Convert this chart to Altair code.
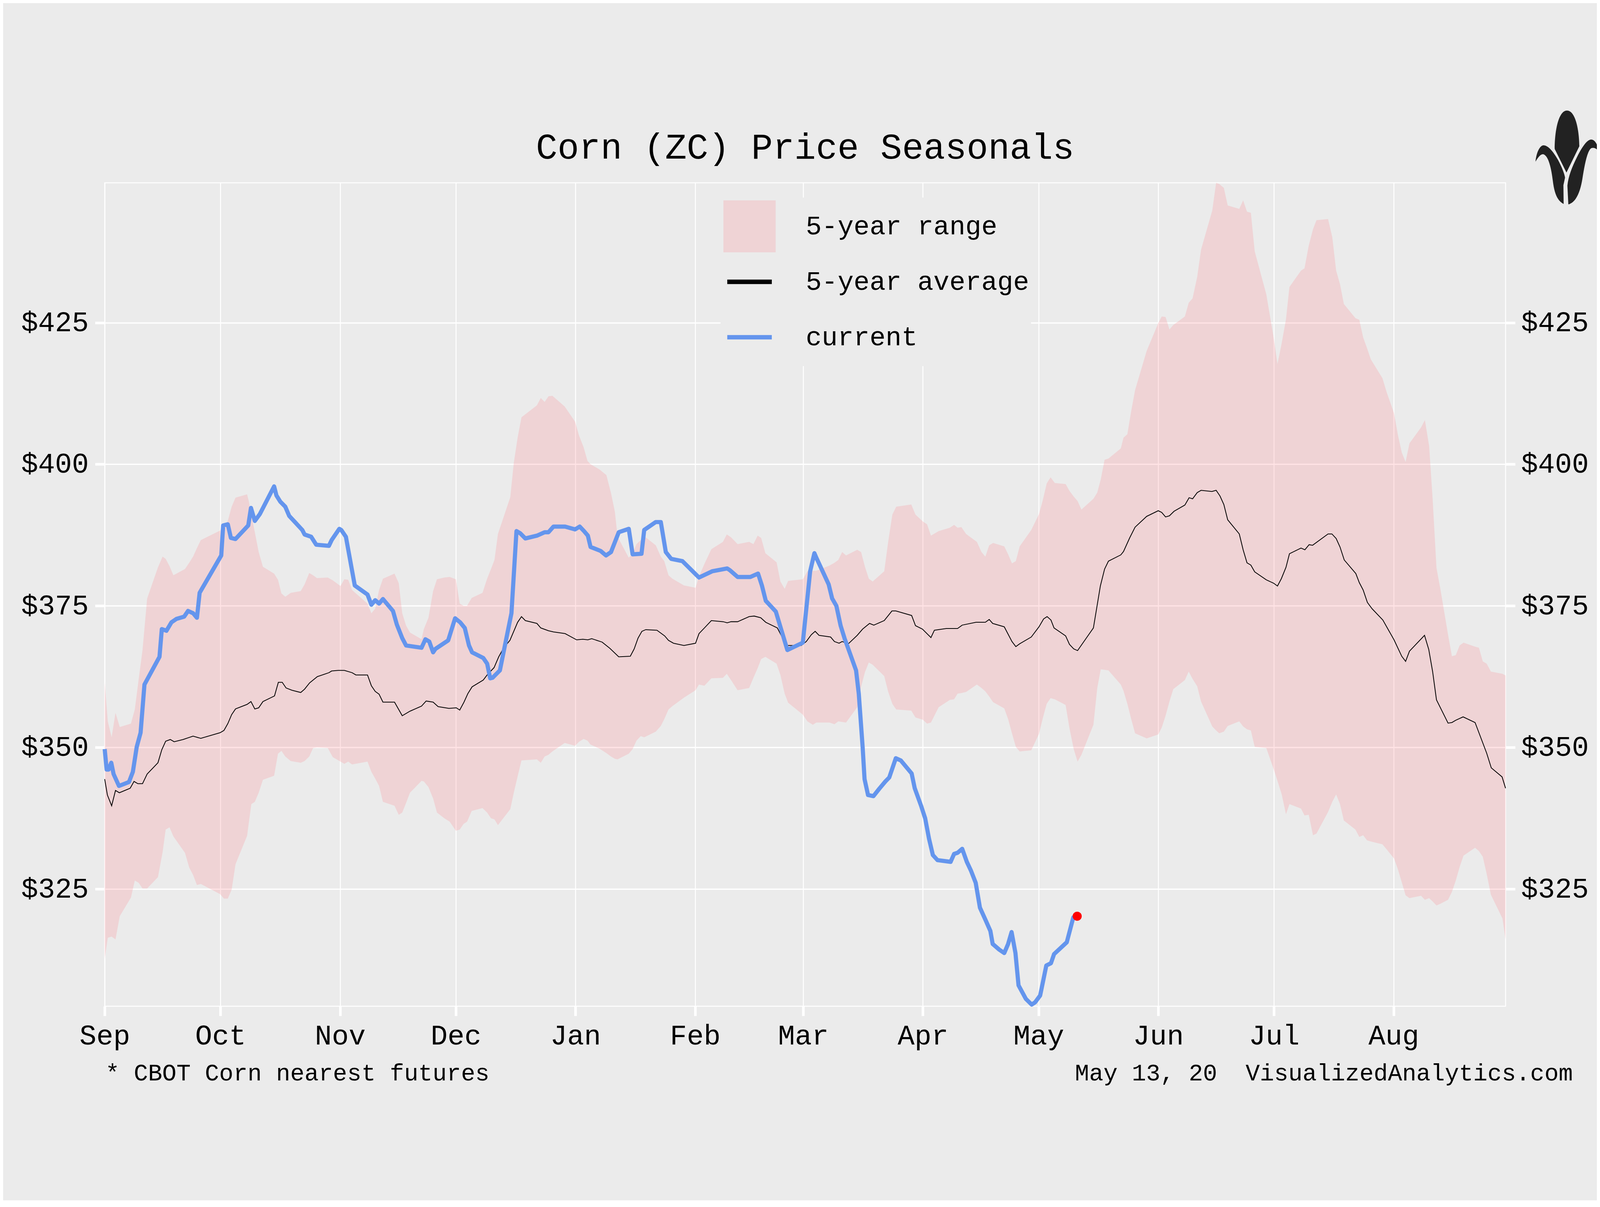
import altair as alt
import pandas as pd

FONT = "Courier New, Liberation Mono, monospace"

# ---------------- data ----------------
month_labels = ["Sep", "Oct", "Nov", "Dec", "Jan", "Feb", "Mar", "Apr", "May", "Jun", "Jul", "Aug"]
month_starts = [0, 30, 61, 91, 122, 153, 181, 212, 242, 273, 303, 334]   # days since Sep 1
y_ticks = [325, 350, 375, 400, 425]

# 5-year range (days since Sep 1, low, high)
range_day = [
    0, 0.8, 1.8, 2.8, 3.9, 6.8, 7.8, 8.8, 9.8, 11.0, 13.8, 15.0, 15.8, 16.8, 17.8, 20.8, 21.9, 22.9, 23.9, 24.9,
    29.9, 30.9, 31.9, 32.9, 33.9, 36.9, 37.4, 38.0, 38.9, 39.9, 41.0, 43.9, 44.9, 45.8, 46.8, 48.2, 50.8, 51.8,
    53.0, 54.0, 55.0, 57.8, 59.1, 61.1, 62.1, 63.1, 64.1, 68.1, 69.1, 70.1, 71.1, 72.1, 75.1, 76.2, 77.1, 78.1,
    79.1, 82.1, 82.7, 83.9, 85.1, 86.1, 88.0, 89.4, 91.0,
    92.0, 93.0, 93.9, 95.1, 97.9, 99.1, 100.1, 101.0, 101.9, 105.1, 106.0, 107.0, 108.0, 112.0, 113.0, 114.0,
    115.0, 116.0, 119.2, 121.9, 122.9, 124.1, 125.1, 125.9, 128.2, 130.0, 131.2, 132.2, 132.9, 135.8, 136.8,
    137.8, 138.9, 139.8, 142.8, 144.1, 145.0, 146.1, 147.1, 150.1, 153.1, 154.0, 155.4, 157.2, 160.2, 161.2,
    162.3, 164.0, 167.0, 168.1, 169.2, 170.1, 171.2, 174.1, 175.1, 176.2, 177.1, 180.9,
    182.1, 183.5, 184.4, 187.8, 189.1, 190.1, 191.1, 192.1, 195.0, 196.0, 197.0, 198.0, 199.0, 202.0, 203.0,
    204.1, 205.1, 209.0, 210.1, 212.0, 213.1, 214.1, 216.1, 219.0, 220.1, 221.0, 222.0, 223.2, 226.0, 227.2,
    228.2, 229.2, 230.2, 233.1, 234.1, 235.1, 236.1, 237.1, 240.1, 242.1, 243.1, 244.1, 245.1, 246.2, 249.0,
    250.0, 251.1, 252.1, 253.1, 256.2, 257.2, 258.1, 259.1, 260.1, 263.3,
    264.0, 265.0, 266.0, 267.0, 270.0, 273.0, 273.9, 274.9, 275.9, 276.9, 279.9, 280.9, 281.9, 283.1, 284.1,
    287.0, 288.0, 288.8, 290.0, 291.0, 294.0, 295.0, 296.0, 297.0, 298.0, 301.0, 302.9, 303.9, 305.0, 306.1,
    307.0, 310.0, 310.9, 312.0, 313.1, 314.0, 317.0, 318.1, 319.1, 320.1, 321.1, 324.1, 325.1, 326.1, 327.1,
    328.1, 331.1, 332.2, 334.1, 335.1, 336.1, 337.1, 338.1, 341.1, 342.1, 343.2, 344.1, 345.1, 346.1, 348.1,
    349.1, 350.1, 351.1, 352.1, 355.1, 356.1, 357.1, 358.1, 359.2, 362.2, 363.0,
]
range_high = [
    361.5, 354.6, 351.8, 356.1, 353.6, 354.2, 356.7, 362.0, 367.2, 376.3, 381.8, 383.7, 383.3, 382.0, 380.4, 381.5, 382.6, 383.7, 385.2, 386.6,
    388.3, 389.0, 390.0, 392.5, 394.1, 394.7, 393.3, 391.0, 388.0, 384.5, 381.9, 380.7, 379.6, 377.2, 376.6, 377.3, 377.6, 378.8,
    380.8, 380.4, 379.9, 380.0, 379.5, 378.5, 379.7, 379.6, 377.8, 375.4, 373.7, 374.5, 377.8, 379.8, 380.7, 379.0, 373.7, 371.5,
    370.3, 369.1, 370.9, 372.9, 377.6, 379.7, 380.0, 380.1, 379.7,
    375.4, 375.0, 375.0, 376.4, 377.3, 379.8, 381.5, 383.1, 387.7, 394.2, 400.2, 404.7, 408.3, 410.4, 411.7, 411.0,
    412.0, 412.1, 410.2, 407.5, 405.1, 403.0, 400.6, 400.0, 399.1, 398.1, 394.9, 391.6, 387.2, 383.5, 384.2,
    385.9, 386.6, 387.3, 385.7, 383.7, 382.9, 380.4, 379.8, 378.6, 378.2, 380.2, 382.4, 385.0, 386.3, 387.6,
    387.1, 385.9, 386.3, 385.9, 387.4, 387.0, 384.3, 382.7, 379.3, 378.0, 379.4, 379.7,
    381.1, 381.2, 381.2, 382.1, 382.6, 383.1, 384.5, 383.9, 384.9, 384.5, 381.9, 379.8, 379.3, 381.1, 386.2,
    391.1, 392.5, 392.9, 391.1, 389.9, 389.4, 387.4, 388.2, 388.8, 389.3, 388.8, 388.9, 387.7, 386.3, 384.5,
    383.7, 385.7, 386.1, 385.5, 384.1, 382.5, 382.9, 385.5, 388.4, 391.2, 393.7, 396.6, 397.7, 396.7, 396.5,
    395.3, 394.3, 393.5, 392.0, 393.9, 395.0, 397.3, 400.8, 401.0, 402.8,
    404.7, 405.3, 409.4, 413.1, 420.0, 424.9, 426.1, 426.0, 423.8, 424.6, 426.1, 428.5, 429.3, 433.1, 437.9,
    444.8, 449.7, 449.5, 448.8, 445.7, 445.1, 446.6, 444.6, 444.4, 437.6, 430.0, 422.4, 417.7, 421.4, 425.6,
    431.3, 434.2, 434.6, 438.6, 441.5, 443.1, 443.3, 440.1, 434.2, 431.8, 428.3, 425.8, 425.5, 422.4, 420.5,
    418.5, 415.2, 412.7, 409.0, 405.2, 402.1, 400.4, 403.7, 406.5, 407.8, 403.2, 393.9, 381.7, 378.0, 369.9,
    366.1, 366.3, 368.0, 368.5, 367.8, 367.6, 365.2, 364.8, 363.4, 363.0, 362.7,
]
range_low = [
    312.7, 316.4, 316.6, 316.1, 320.2, 323.5, 326.5, 326.1, 325.1, 325.1, 327.1, 331.5, 335.5, 335.9, 334.3, 331.4, 328.8, 327.5, 325.7, 325.9,
    324.1, 323.3, 323.3, 324.9, 329.4, 334.4, 337.0, 340.0, 340.4, 342.0, 344.3, 345.0, 348.9, 349.4, 348.4, 347.6, 347.3, 347.6,
    348.4, 349.9, 350.0, 349.9, 348.3, 347.5, 347.1, 347.5, 347.0, 347.5, 345.7, 344.5, 343.2, 340.4, 339.7, 338.1, 338.5, 340.2,
    342.0, 344.1, 344.0, 343.0, 341.0, 338.5, 337.5, 336.9, 335.3,
    335.5, 336.5, 336.9, 338.8, 339.3, 338.5, 337.5, 337.3, 336.3, 339.1, 342.0, 344.9, 347.7, 347.9, 347.3, 348.4,
    348.7, 349.3, 350.8, 350.3, 351.0, 351.5, 351.2, 350.5, 349.8, 349.0, 348.4, 348.0, 347.9, 348.9, 349.7,
    351.2, 352.0, 351.8, 352.8, 353.8, 355.0, 356.7, 357.3, 358.8, 360.1, 361.1, 360.9, 362.2, 362.3, 363.0,
    361.9, 360.1, 360.5, 362.3, 364.0, 365.6, 366.0, 364.8, 362.8, 359.5, 357.9, 355.8,
    354.6, 354.0, 354.4, 354.4, 354.1, 354.6, 354.5, 354.4, 357.1, 360.7, 363.3, 365.0, 364.6, 362.6, 359.9,
    357.7, 356.7, 356.5, 355.3, 354.9, 354.2, 354.4, 357.1, 358.4, 358.5, 359.5, 359.6, 359.8, 361.1, 360.5,
    359.9, 359.0, 358.0, 356.9, 355.0, 352.5, 350.1, 349.3, 349.5, 352.4, 355.2, 357.7, 358.7, 358.5, 357.5,
    353.4, 349.7, 347.5, 348.7, 354.0, 360.5, 363.8, 363.7, 363.6, 361.1,
    360.0, 357.7, 355.0, 352.5, 351.6, 352.3, 353.5, 355.6, 358.1, 360.3, 361.9, 363.4, 362.1, 360.8, 358.1,
    353.7, 353.0, 352.5, 352.8, 353.8, 354.6, 353.7, 353.2, 353.0, 350.1, 349.9, 346.2, 344.1, 341.7, 338.2,
    340.0, 339.2, 338.0, 338.1, 334.5, 334.8, 338.6, 340.4, 341.7, 340.0, 337.1, 335.5, 334.2, 334.5, 333.6,
    333.4, 332.9, 332.0, 330.4, 328.5, 326.2, 323.9, 323.4, 323.8, 323.1, 323.4, 322.8, 322.1, 322.4, 323.1,
    324.5, 326.5, 328.9, 330.9, 332.3, 331.7, 330.7, 327.7, 324.0, 319.8, 316.1,
]

# 5-year average
avg_day = [
    0, 0.7, 1.8, 2.8, 3.8, 6.6, 7.6, 8.6, 9.8, 11.0, 13.8, 14.8, 15.8, 17.0, 18.0, 20.3, 22.9, 24.9, 29.9, 30.9,
    31.9, 32.9, 33.9, 36.9, 37.9, 38.9, 39.9, 41.0, 44.0, 45.0, 46.0, 47.0, 48.5, 50.8, 51.8, 53.1, 55.1, 58.1,
    58.8, 60.5, 62.1, 64.1, 65.1, 68.1, 69.1, 70.1, 71.1, 72.1, 75.1, 77.1, 79.1, 82.1, 83.3, 85.1, 86.4, 89.2,
    91.1, 92.0, 93.1, 94.1, 95.2, 98.1, 99.1, 100.9, 102.1, 103.4, 105.0, 107.0, 108.0, 109.0, 112.0, 113.0,
    115.0, 116.3, 119.3, 122.3, 123.9, 125.2, 126.2, 128.9, 130.9, 133.2, 136.2, 137.2, 138.2, 139.2, 140.2,
    143.1, 145.1, 146.1, 147.4, 150.1, 153.1, 154.0, 155.4, 157.2, 160.3, 161.3, 162.3, 164.0, 167.0, 168.3,
    170.0, 171.3, 174.3, 175.9, 176.9, 180.5,
    181.8, 183.1, 184.1, 185.1, 188.1, 189.1, 190.3, 191.1, 192.7, 195.0, 196.4, 198.2, 199.3, 202.0, 204.0,
    205.0, 209.1, 210.1, 211.9, 214.1, 215.0, 218.1, 221.0, 222.2, 225.8, 228.2, 229.2, 230.1, 233.1, 235.1,
    236.1, 237.1, 240.1, 242.1, 243.3, 244.2, 245.2, 246.0, 249.0, 250.0, 251.1, 252.1, 256.2, 258.0, 259.1,
    260.1, 263.3,
    264.0, 265.6, 267.0, 270.0, 273.0, 273.9, 274.9, 275.9, 277.1, 279.9, 281.0, 281.9, 283.1, 284.1, 286.9,
    288.0, 289.0, 290.0, 291.0, 294.0, 295.0, 296.0, 297.0, 298.0, 301.0, 302.9, 303.9, 304.9, 306.1, 307.0,
    310.0, 311.0, 312.1, 313.0, 317.0, 318.0, 319.1, 320.1, 321.2, 324.2, 325.1, 326.1, 327.2, 328.4, 331.2,
    334.1, 336.1, 337.1, 338.1, 342.0, 343.1, 344.1, 345.1, 348.1, 349.1, 350.1, 352.0, 355.1, 358.1, 359.3,
    362.1, 363.0,
]
avg_price = [
    344.4, 341.6, 339.7, 342.4, 342.0, 342.8, 344.0, 343.6, 343.6, 345.3, 347.3, 349.6, 351.1, 351.4, 351.0, 351.4, 352.0, 351.6, 352.6, 353.0,
    354.2, 355.8, 356.8, 357.6, 358.1, 356.8, 357.0, 358.1, 359.1, 361.5, 361.5, 360.5, 360.1, 359.7, 360.3, 361.4, 362.5, 363.2,
    363.5, 363.6, 363.6, 363.2, 362.8, 362.8, 360.9, 359.9, 359.4, 358.0, 358.0, 355.6, 356.4, 357.3, 358.2, 358.0, 357.2, 356.9,
    357.0, 356.6, 358.0, 359.5, 360.7, 361.9, 362.8, 364.1, 366.0, 367.6, 368.9, 372.1, 373.1, 372.4, 371.9, 371.1,
    370.6, 370.4, 370.1, 369.0, 369.1, 369.0, 369.2, 368.6, 367.5, 366.0, 366.1, 367.4, 369.3, 370.5, 370.8,
    370.7, 369.7, 368.9, 368.4, 368.0, 368.4, 370.1, 371.1, 372.4, 372.2, 372.0, 372.2, 372.2, 373.1, 373.2,
    372.9, 372.1, 371.1, 369.0, 368.0, 368.0,
    368.7, 369.9, 370.5, 369.8, 369.5, 368.7, 368.4, 368.7, 368.3, 369.8, 370.9, 371.9, 371.6, 372.4, 374.1,
    374.1, 373.3, 371.5, 370.9, 369.4, 370.7, 371.0, 371.0, 371.6, 372.1, 372.1, 372.6, 371.9, 371.3, 368.7,
    367.8, 368.3, 369.5, 371.3, 372.7, 373.1, 372.5, 371.1, 369.7, 368.2, 367.4, 367.1, 371.1, 378.5, 381.5,
    382.9, 384.0,
    384.6, 387.0, 388.9, 390.8, 391.8, 391.5, 390.7, 390.9, 391.7, 392.8, 394.1, 393.9, 395.0, 395.4, 395.2,
    395.4, 394.4, 392.9, 390.2, 387.7, 384.9, 382.6, 382.2, 381.0, 379.6, 379.0, 378.5, 379.8, 381.8, 384.2,
    385.2, 384.9, 385.8, 385.7, 387.7, 387.7, 386.9, 385.4, 383.1, 380.7, 379.1, 377.8, 375.6, 374.5, 372.5,
    369.0, 366.1, 365.2, 367.0, 369.8, 367.3, 363.4, 358.4, 354.3, 354.4, 354.8, 355.4, 354.4, 349.0, 346.4,
    344.8, 342.8,
]

# current season
cur_day = [
    0, 0.5, 1.0, 1.7, 2.3, 3.7, 6.3, 7.3, 8.3, 9.3, 10.3, 14.2, 14.8, 16.0, 17.3, 18.6, 20.6, 21.6, 22.9, 23.9,
    24.6, 30.2, 30.7, 31.9, 32.7, 33.9, 37.2, 37.9, 38.9, 40.2, 43.9, 44.5, 45.5, 46.8, 47.8, 51.2, 51.8, 53.5,
    54.8, 58.1, 58.8, 60.8, 61.3, 62.5, 64.8, 68.1, 69.1, 70.1, 71.1, 72.1, 74.7, 75.7, 77.1, 78.1, 82.1, 83.1,
    84.1, 85.1, 85.7, 89.0,
    90.8, 92.1, 93.3, 94.4, 95.2, 98.1, 99.1, 99.9, 100.5, 102.4, 105.4, 106.7, 107.7, 109.0, 112.0, 114.0,
    115.0, 116.3, 119.3, 121.9, 123.1, 124.2, 125.2, 125.9, 128.5, 129.9, 131.2, 133.2, 135.8, 136.8, 139.1,
    139.8, 142.8, 144.1, 145.4, 146.8, 149.7, 154.0, 157.4, 161.3, 162.0, 164.0, 167.3, 169.3, 170.3, 171.3,
    173.9, 176.9, 180.9,
    182.8, 183.9, 184.4, 187.6, 188.5, 189.6, 190.7, 191.7, 194.7, 195.4, 196.4, 196.9, 197.8, 199.2, 200.7,
    202.3, 203.3, 205.0, 206.3, 209.1, 209.9, 211.6, 212.6, 213.6, 214.6, 215.8, 219.2, 220.1, 221.0, 222.2,
    223.4, 224.5, 225.7, 226.8, 228.2, 229.5, 230.1, 231.8, 233.1, 234.1, 235.0, 236.0, 236.8, 238.7, 240.2,
    241.1, 242.4, 244.0, 245.2, 246.0, 249.3, 251.0, 252.0,
]
cur_price = [
    349.7, 346.1, 346.1, 347.3, 345.3, 343.2, 343.9, 345.7, 350.1, 352.6, 361.1, 366.0, 370.9, 370.6, 372.1, 372.7, 373.1, 374.1, 373.7, 372.9,
    377.3, 383.9, 389.2, 389.4, 387.0, 386.8, 389.2, 392.3, 390.0, 391.2, 396.1, 394.5, 393.4, 392.5, 390.9, 388.4, 387.6, 387.2,
    385.8, 385.6, 386.6, 388.6, 388.4, 387.2, 378.6, 377.0, 375.2, 376.0, 375.4, 376.2, 374.1, 371.7, 369.3, 368.0, 367.6, 369.1,
    368.7, 366.8, 367.4, 368.9,
    372.8, 372.1, 371.1, 368.0, 366.8, 365.8, 364.8, 362.2, 362.3, 363.6, 373.7, 388.2, 387.8, 386.9, 387.4, 388.0,
    388.0, 389.0, 389.0, 388.5, 389.0, 388.2, 387.4, 385.4, 384.7, 383.9, 384.5, 388.0, 388.6, 384.1, 384.2,
    388.4, 389.8, 389.8, 384.5, 383.3, 382.9, 380.0, 381.1, 381.6, 381.3, 380.1, 380.1, 380.7, 378.6, 375.9,
    374.0, 367.2, 368.5,
    381.1, 384.3, 383.5, 378.8, 376.3, 375.0, 371.5, 369.3, 363.6, 359.5, 350.1, 344.4, 341.6, 341.4, 342.7,
    344.0, 344.7, 348.1, 347.7, 345.4, 342.8, 339.6, 337.5, 333.9, 331.0, 330.1, 329.8, 331.2, 331.4, 332.1,
    329.8, 328.2, 326.1, 321.7, 319.6, 317.6, 315.3, 314.3, 313.7, 315.3, 317.4, 313.7, 308.0, 305.6, 304.6,
    305.0, 306.2, 311.5, 311.9, 313.5, 315.6, 320.0, 320.2,
]

legend_labels = ["5-year range", "5-year average", "current"]
title_text = "Corn (ZC) Price Seasonals"
caption_left = "* CBOT Corn nearest futures"
caption_right = "May 13, 20 \u00a0VisualizedAnalytics.com"

# ---------------- styling constants ----------------
W, H = 4372, 2570
BG = "#EBEBEB"
BAND = "#FF737D"
BAND_OP = 0.2
BLUE = "#6495ED"

range_df = pd.DataFrame({"day": range_day, "low": range_low, "high": range_high})
avg_df = pd.DataFrame({"day": avg_day, "price": avg_price})
cur_df = pd.DataFrame({"day": cur_day, "price": cur_price})
last_df = cur_df.tail(1)

label_expr = "[" + ",".join("'%s'" % m for m in month_labels) + "][indexof([" + \
    ",".join(str(v) for v in month_starts) + "], datum.value)]"

x_enc = alt.X(
    "day:Q",
    scale=alt.Scale(domain=[0, 363], nice=False, zero=False),
    axis=alt.Axis(
        values=month_starts, labelExpr=label_expr, title=None,
        grid=True, gridColor="white", gridWidth=3,
        ticks=True, tickColor="white", tickWidth=8, tickSize=30,
        domain=False, labelFont=FONT, labelFontSize=88, labelColor="black",
        labelBaseline="alphabetic", labelPadding=89, labelFlush=False,
        labelOverlap=False, labelAlign="center", labelLimit=0,
    ),
)
y_scale = alt.Scale(domain=[304.3, 449.7], nice=False, zero=False)


def y_axis(orient, grid, pad):
    return alt.Axis(
        orient=orient, values=y_ticks, labelExpr="'$' + datum.value", title=None,
        grid=grid, gridColor="white", gridWidth=4,
        ticks=True, tickColor="white", tickWidth=8, tickSize=30,
        domain=False, labelFont=FONT, labelFontSize=88, labelColor="black",
        labelPadding=pad, labelBaseline="middle", labelOverlap=False, labelLimit=0,
    )


y_left = y_axis("left", True, 20)
y_right = y_axis("right", False, 18)

band = alt.Chart(range_df).mark_area(color=BAND, opacity=BAND_OP).encode(
    x=x_enc, y=alt.Y("low:Q", scale=y_scale, axis=y_left), y2="high:Q"
)
avg_line = alt.Chart(avg_df).mark_line(color="black", strokeWidth=2.5).encode(
    x=x_enc, y=alt.Y("price:Q", scale=y_scale, axis=y_left)
)
cur_line = alt.Chart(cur_df).mark_line(color=BLUE, strokeWidth=13, strokeJoin="round").encode(
    x=x_enc, y=alt.Y("price:Q", scale=y_scale, axis=y_left)
)
dot = alt.Chart(last_df).mark_circle(color="red", size=800, opacity=1).encode(
    x=x_enc, y=alt.Y("price:Q", scale=y_scale, axis=y_left)
)

one = pd.DataFrame({"k": [0]})

# legend (drawn manually)
legend_bg = alt.Chart(one).mark_rect(color=BG).encode(
    x=alt.value(1922), x2=alt.value(2891), y=alt.value(46), y2=alt.value(572)
)
legend_key_range = alt.Chart(one).mark_rect(color=BAND, opacity=BAND_OP).encode(
    x=alt.value(1931), x2=alt.value(2094), y=alt.value(55), y2=alt.value(217)
)
legend_key_avg = alt.Chart(one).mark_rule(color="black", strokeWidth=14).encode(
    x=alt.value(1943), x2=alt.value(2082), y=alt.value(309)
)
legend_key_cur = alt.Chart(one).mark_rule(color=BLUE, strokeWidth=14).encode(
    x=alt.value(1943), x2=alt.value(2082), y=alt.value(482)
)
legend_texts = []
for lab, yb in zip(legend_labels, [161, 334, 507]):
    legend_texts.append(
        alt.Chart(pd.DataFrame({"t": [lab]})).mark_text(
            font=FONT, fontSize=83, align="left", baseline="alphabetic", color="black"
        ).encode(x=alt.value(2188), y=alt.value(yb), text="t:N")
    )

title = alt.Chart(pd.DataFrame({"t": [title_text]})).mark_text(
    font=FONT, fontSize=112, align="center", baseline="alphabetic", color="black"
).encode(x=alt.value(W / 2), y=alt.value(-75), text="t:N")

cap_l = alt.Chart(pd.DataFrame({"t": [caption_left]})).mark_text(
    font=FONT, fontSize=74, align="left", baseline="alphabetic", color="black"
).encode(x=alt.value(2), y=alt.value(2802), text="t:N")
cap_r = alt.Chart(pd.DataFrame({"t": [caption_right]})).mark_text(
    font=FONT, fontSize=74, align="right", baseline="alphabetic", color="black"
).encode(x=alt.value(4582), y=alt.value(2802), text="t:N")

corn_path = (
    "M -0.27 -0.18 C -0.27 -0.6 -0.18 -1 -0.01 -1 C 0.17 -1 0.25 -0.6 0.255 -0.24 L -0.02 0.32 Z "
    "M -0.68 0.09 C -0.66 -0.12 -0.58 -0.27 -0.5 -0.26 C -0.4 -0.25 -0.3 -0.12 -0.2 0.05 "
    "C -0.12 0.2 -0.06 0.35 -0.05 0.43 L -0.085 0.59 L -0.08 0.99 C -0.22 0.92 -0.28 0.75 -0.31 0.5 "
    "C -0.34 0.25 -0.4 -0.05 -0.52 -0.07 C -0.58 -0.07 -0.64 0.02 -0.68 0.09 Z "
    "M 0.68 -0.13 C 0.64 -0.28 0.58 -0.4 0.49 -0.38 C 0.4 -0.36 0.3 -0.2 0.2 0 "
    "C 0.1 0.2 0.02 0.4 0 0.6 L 0.02 1 C 0.2 0.95 0.28 0.7 0.32 0.45 "
    "C 0.36 0.2 0.42 -0.15 0.51 -0.2 C 0.58 -0.22 0.62 -0.18 0.68 -0.13 Z"
)
icon = alt.Chart(one).mark_point(
    shape=corn_path, filled=True, color="#222222", size=85849, opacity=1, strokeWidth=0
).encode(x=alt.value(4565), y=alt.value(-79))

inner = alt.layer(
    band, avg_line, cur_line, dot,
    legend_bg, legend_key_range, legend_key_avg, legend_key_cur, *legend_texts,
    title, cap_l, cap_r, icon,
)
right_axis = alt.Chart(avg_df).mark_line(opacity=0).encode(
    x=x_enc, y=alt.Y("price:Q", scale=y_scale, axis=y_right)
)

chart = alt.layer(inner, right_axis).resolve_scale(y="independent").properties(
    width=W, height=H,
    padding={"left": 317, "top": 225, "right": 285, "bottom": 270},
    autosize=alt.AutoSizeParams(type="none"),
    background=BG,
).configure_view(stroke="white", strokeWidth=3)

chart.save("out.html", embed_options={"renderer": "svg", "actions": False})
